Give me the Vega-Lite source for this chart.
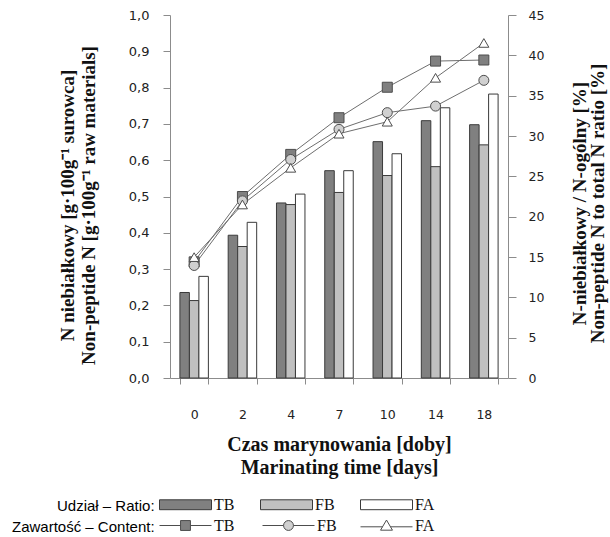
{
  "$schema": "https://vega.github.io/schema/vega-lite/v6.json",
  "width": 338,
  "height": 363,
  "autosize": {"type": "none"},
  "padding": {"left": 170, "top": 15, "right": 102, "bottom": 159},
  "background": "white",
  "config": {
    "view": {"stroke": null},
    "axis": {
      "grid": false,
      "domainColor": "#8c8c8c",
      "tickColor": "#8c8c8c",
      "labelFont": "DejaVu Sans",
      "labelColor": "#222222",
      "titleFont": "Liberation Serif",
      "titleFontWeight": "bold",
      "titleColor": "#111111"
    },
    "legend": {
      "orient": "none",
      "direction": "horizontal",
      "titleOrient": "left",
      "titleAnchor": "middle",
      "titleBaseline": "middle",
      "titleFont": "Liberation Sans",
      "titleFontSize": 15,
      "titleFontWeight": "normal",
      "titleColor": "#000000",
      "titlePadding": 4,
      "labelFont": "Liberation Serif",
      "labelFontSize": 16,
      "labelColor": "#111111",
      "labelOffset": 2,
      "columnPadding": 23,
      "symbolSize": 2704,
      "symbolStrokeWidth": 1,
      "padding": 0
    }
  },
  "datasets": {
    "ratio": [
      {"day": 0, "series": "TB", "value": 10.6},
      {"day": 0, "series": "FB", "value": 9.6},
      {"day": 0, "series": "FA", "value": 12.6},
      {"day": 2, "series": "TB", "value": 17.7},
      {"day": 2, "series": "FB", "value": 16.3},
      {"day": 2, "series": "FA", "value": 19.3},
      {"day": 4, "series": "TB", "value": 21.7},
      {"day": 4, "series": "FB", "value": 21.5},
      {"day": 4, "series": "FA", "value": 22.8},
      {"day": 7, "series": "TB", "value": 25.7},
      {"day": 7, "series": "FB", "value": 23.0},
      {"day": 7, "series": "FA", "value": 25.7},
      {"day": 10, "series": "TB", "value": 29.3},
      {"day": 10, "series": "FB", "value": 25.1},
      {"day": 10, "series": "FA", "value": 27.8},
      {"day": 14, "series": "TB", "value": 31.9},
      {"day": 14, "series": "FB", "value": 26.2},
      {"day": 14, "series": "FA", "value": 33.5},
      {"day": 18, "series": "TB", "value": 31.4},
      {"day": 18, "series": "FB", "value": 28.9},
      {"day": 18, "series": "FA", "value": 35.2}
    ],
    "content": [
      {"day": 0, "series": "TB", "value": 0.32},
      {"day": 0, "series": "FB", "value": 0.31},
      {"day": 0, "series": "FA", "value": 0.333},
      {"day": 2, "series": "TB", "value": 0.5},
      {"day": 2, "series": "FB", "value": 0.488},
      {"day": 2, "series": "FA", "value": 0.478},
      {"day": 4, "series": "TB", "value": 0.616},
      {"day": 4, "series": "FB", "value": 0.602},
      {"day": 4, "series": "FA", "value": 0.579},
      {"day": 7, "series": "TB", "value": 0.717},
      {"day": 7, "series": "FB", "value": 0.685},
      {"day": 7, "series": "FA", "value": 0.673},
      {"day": 10, "series": "TB", "value": 0.801},
      {"day": 10, "series": "FB", "value": 0.731},
      {"day": 10, "series": "FA", "value": 0.706},
      {"day": 14, "series": "TB", "value": 0.873},
      {"day": 14, "series": "FB", "value": 0.749},
      {"day": 14, "series": "FA", "value": 0.827},
      {"day": 18, "series": "TB", "value": 0.876},
      {"day": 18, "series": "FB", "value": 0.82},
      {"day": 18, "series": "FA", "value": 0.923}
    ]
  },
  "encoding": {
    "x": {
      "field": "day",
      "type": "ordinal",
      "scale": {"paddingInner": 0.41, "paddingOuter": 0.205},
      "axis": {
        "orient": "bottom",
        "tickBand": "extent",
        "tickSize": 6,
        "labelAngle": 0,
        "labelPadding": 24,
        "labelFontSize": 12.5,
        "title": ["Czas marynowania [doby]", "Marinating time [days]"],
        "titleFontSize": 20,
        "titleLineHeight": 23,
        "titleBaseline": "top",
        "titleX": 169,
        "titleY": 56
      }
    }
  },
  "layer": [
    {
      "data": {"name": "ratio"},
      "mark": {"type": "bar", "stroke": "#3a3a3a", "strokeWidth": 1},
      "encoding": {
        "xOffset": {"field": "series", "type": "nominal", "sort": ["TB", "FB", "FA"], "scale": {"paddingInner": 0, "paddingOuter": 0}},
        "y": {
          "field": "value",
          "type": "quantitative",
          "scale": {"domain": [0, 45]},
          "axis": {
            "orient": "right",
            "values": [0, 5, 10, 15, 20, 25, 30, 35, 40, 45],
            "tickSize": 8,
            "labelPadding": 12,
            "labelFontSize": 12.5,
            "title": ["N-niebiałkowy / N-ogólny [%]", "Non-peptide N to total N ratio [%]"],
            "titleFontSize": 19,
            "titleLineHeight": 18.5,
            "titleAngle": -90,
            "titleBaseline": "top",
            "titleAlign": "center",
            "titleX": 62,
            "titleY": 188
          }
        },
        "fill": {
          "field": "series",
          "type": "nominal",
          "sort": ["TB", "FB", "FA"],
          "scale": {"domain": ["TB", "FB", "FA"], "range": ["#808080", "#c0c0c0", "#ffffff"]},
          "legend": {
            "title": "Udział – Ratio:",
            "symbolType": "M-1,-0.19H1V0.19H-1Z",
            "symbolStrokeColor": "#3a3a3a",
            "legendX": -113,
            "legendY": 463,
            "encoding": {"title": {"dy": {"value": 11}}}
          }
        }
      }
    },
    {
      "data": {"name": "content"},
      "encoding": {
        "y": {
          "field": "value",
          "type": "quantitative",
          "scale": {"domain": [0, 1]},
          "axis": {
            "orient": "left",
            "values": [0, 0.1, 0.2, 0.3, 0.4, 0.5, 0.6, 0.7, 0.8, 0.9, 1],
            "labelExpr": "replace(format(datum.value, '.1f'), '.', ',')",
            "tickSize": 7,
            "labelPadding": 14,
            "labelFontSize": 13,
            "title": ["N niebiałkowy [g·100g⁻¹ surowca]", "Non-peptide N [g·100g⁻¹ raw materials]"],
            "titleFontSize": 19,
            "titleLineHeight": 21,
            "titleAngle": -90,
            "titleBaseline": "top",
            "titleAlign": "center",
            "titleX": -112,
            "titleY": 190
          }
        }
      },
      "layer": [
        {
          "mark": {"type": "line", "color": "#6e6e6e", "strokeWidth": 1},
          "encoding": {"detail": {"field": "series", "type": "nominal"}}
        },
        {
          "transform": [{"filter": "datum.series === 'TB'"}],
          "mark": {"type": "point", "shape": "square", "filled": true, "size": 100, "fill": "#808080", "stroke": "#4d4d4d", "strokeWidth": 1},
          "encoding": {
            "opacity": {
              "field": "series",
              "type": "ordinal",
              "scale": {"range": [1, 1]},
              "legend": {
                "title": "Zawartość – Content:",
                "symbolType": "M-1,0H-0.19M0.19,0H1M-0.19,-0.19H0.19V0.19H-0.19Z",
                "symbolFillColor": "#808080",
                "symbolStrokeColor": "#4d4d4d",
                "legendX": -158,
                "legendY": 484,
                "encoding": {
                  "title": {"dy": {"value": 11}},
                  "symbols": {"fill": {"value": "#808080"}, "stroke": {"value": "#4d4d4d"}, "strokeWidth": {"value": 1}}
                }
              }
            }
          }
        },
        {
          "transform": [{"filter": "datum.series === 'FB'"}],
          "mark": {"type": "point", "shape": "circle", "filled": true, "size": 100, "fill": "#d0d0d0", "stroke": "#4d4d4d", "strokeWidth": 1},
          "encoding": {
            "opacity": {
              "field": "series",
              "type": "ordinal",
              "scale": {"range": [1, 1]},
              "legend": {
                "title": null,
                "symbolType": "M-1,0H-0.19M0.19,0H1M-0.19,0A0.19,0.19 0 1,0 0.19,0A0.19,0.19 0 1,0 -0.19,0Z",
                "symbolFillColor": "#d0d0d0",
                "symbolStrokeColor": "#4d4d4d",
                "legendX": 92,
                "legendY": 484,
                "encoding": {
                  "symbols": {"fill": {"value": "#d0d0d0"}, "stroke": {"value": "#4d4d4d"}, "strokeWidth": {"value": 1}}
                }
              }
            }
          }
        },
        {
          "transform": [{"filter": "datum.series === 'FA'"}],
          "mark": {"type": "point", "shape": "triangle-up", "filled": true, "size": 100, "fill": "#ffffff", "stroke": "#4d4d4d", "strokeWidth": 1},
          "encoding": {
            "opacity": {
              "field": "series",
              "type": "ordinal",
              "scale": {"range": [1, 1]},
              "legend": {
                "title": null,
                "symbolType": "M-1,0.05H-0.15M0.15,0.05H1M-0.23,0.18L0,-0.21L0.23,0.18Z",
                "symbolFillColor": "#ffffff",
                "symbolStrokeColor": "#4d4d4d",
                "legendX": 190,
                "legendY": 484,
                "encoding": {
                  "symbols": {"fill": {"value": "#ffffff"}, "stroke": {"value": "#4d4d4d"}, "strokeWidth": {"value": 1}}
                }
              }
            }
          }
        }
      ],
      "resolve": {"scale": {"opacity": "independent"}, "legend": {"opacity": "independent"}}
    }
  ],
  "resolve": {"scale": {"y": "independent", "fill": "independent", "opacity": "independent"}, "legend": {"opacity": "independent"}}
}
